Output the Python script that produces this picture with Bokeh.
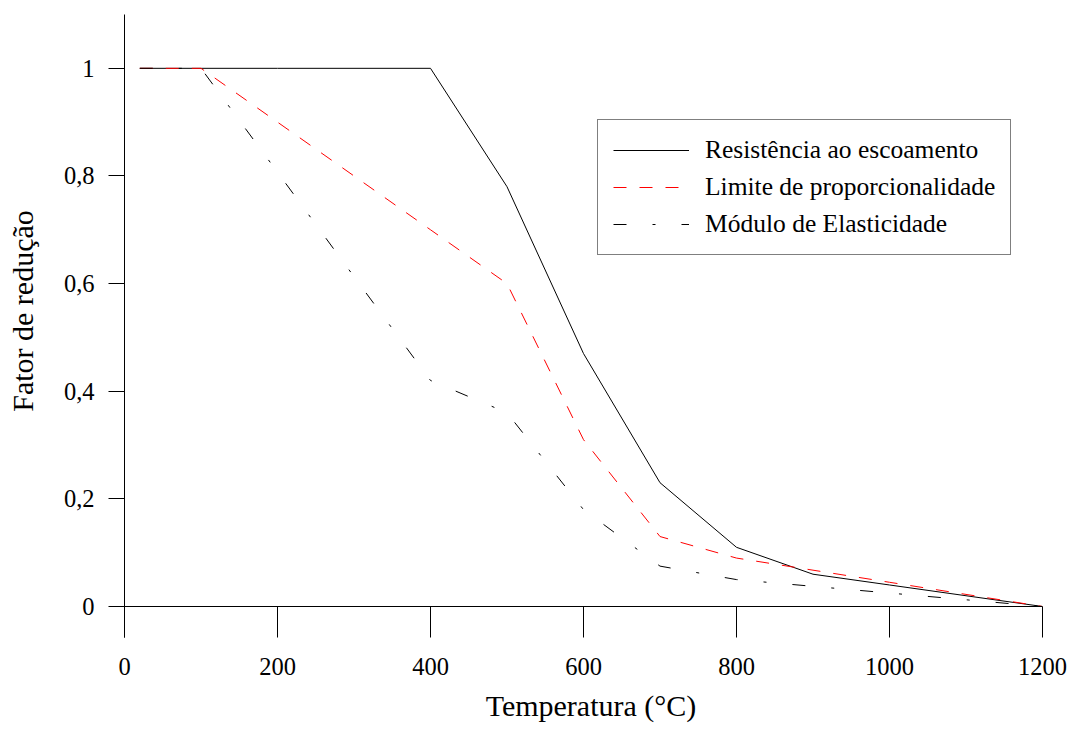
from bokeh.plotting import figure
from bokeh.models import FixedTicker, Span, Legend, LegendItem, Range1d
from bokeh.embed import file_html
from bokeh.resources import INLINE

temperatures = [20, 100, 200, 300, 400, 500, 600, 700, 800, 900, 1000, 1100, 1200]
resistencia = [1, 1, 1, 1, 1, 0.78, 0.47, 0.23, 0.11, 0.06, 0.04, 0.02, 0]
limite = [1, 1, 0.9, 0.8, 0.7, 0.6, 0.31, 0.13, 0.09, 0.0675, 0.045, 0.0225, 0]
modulo = [1, 1, 0.807, 0.613, 0.42, 0.36, 0.18, 0.075, 0.05, 0.0375, 0.025, 0.0125, 0]

series_names = ["Resistência ao escoamento", "Limite de proporcionalidade", "Módulo de Elasticidade"]
x_ticks = [0, 200, 400, 600, 800, 1000, 1200]
y_ticks = [0, 0.2, 0.4, 0.6, 0.8, 1]
y_tick_labels = ["0", "0,2", "0,4", "0,6", "0,8", "1"]
x_title = "Temperatura (°C)"
y_title = "Fator de redução"

FONT = "Liberation Serif"
NB = "\u00a0"

p = figure(width=1068, height=729, output_backend="svg", toolbar_location=None,
           x_range=Range1d(0, 1200), y_range=Range1d(-0.0576, 1.1))
p.min_border_left = 124
p.min_border_right = 26
p.min_border_top = 14
p.min_border_bottom = 92
p.outline_line_color = None
p.xgrid.visible = False
p.ygrid.visible = False
p.background_fill_color = "white"
p.border_fill_color = "white"

r1 = p.line(temperatures, resistencia, line_color="black", line_width=1)
r2 = p.line(temperatures, limite, line_color="#ff0000", line_width=1, line_dash="13 13")
r3 = p.line(temperatures, modulo, line_color="black", line_width=1, line_dash="13 26 3 26")

p.add_layout(Span(location=0, dimension="width", line_color="black", line_width=1))

xa = p.xaxis[0]
xa.ticker = FixedTicker(ticks=x_ticks)
xa.axis_line_color = None
xa.major_tick_in = 31
xa.major_tick_out = 0
xa.minor_tick_line_color = None
xa.major_tick_line_color = "black"
xa.major_label_standoff = 20
xa.major_label_text_font = FONT
xa.major_label_text_font_size = "24.5px"
xa.major_label_text_color = "black"
xa.axis_label = NB * 2 + x_title
xa.axis_label_text_font = FONT
xa.axis_label_text_font_size = "30px"
xa.axis_label_text_font_style = "normal"
xa.axis_label_text_color = "black"
xa.axis_label_standoff = 11

ya = p.yaxis[0]
ya.ticker = FixedTicker(ticks=y_ticks)
ya.major_label_overrides = {v: lab for v, lab in zip(y_ticks, y_tick_labels)}
ya.axis_line_color = "black"
ya.major_tick_in = 0
ya.major_tick_out = 16
ya.minor_tick_line_color = None
ya.major_tick_line_color = "black"
ya.major_label_standoff = 14
ya.major_label_text_font = FONT
ya.major_label_text_font_size = "24.5px"
ya.major_label_text_color = "black"
ya.axis_label = NB * 4 + y_title
ya.axis_label_text_font = FONT
ya.axis_label_text_font_size = "30px"
ya.axis_label_text_font_style = "normal"
ya.axis_label_text_color = "black"
ya.axis_label_standoff = 22

legend = Legend(items=[LegendItem(label=series_names[0], renderers=[r1]),
                       LegendItem(label=series_names[1], renderers=[r2]),
                       LegendItem(label=series_names[2], renderers=[r3])],
                location=(473, 382))
legend.border_line_color = "black"
legend.border_line_width = 1
legend.background_fill_alpha = 1
legend.label_text_font = FONT
legend.label_text_font_size = "25.5px"
legend.label_text_color = "black"
legend.glyph_width = 76
legend.glyph_height = 30
legend.label_height = 30
legend.label_standoff = 16
legend.spacing = 7
legend.padding = 15
legend.margin = 0
p.add_layout(legend)

open("out.html", "w").write(file_html(p, INLINE))
